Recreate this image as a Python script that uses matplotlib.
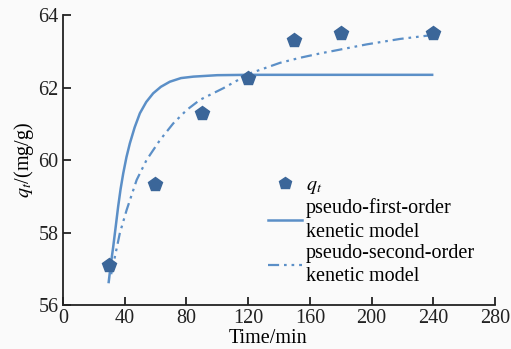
import matplotlib
matplotlib.use("Agg")
import matplotlib.pyplot as plt
from matplotlib.lines import Line2D

# experimental data
t_exp = [30, 60, 90, 120, 150, 180, 240]
q_exp = [57.1, 59.35, 61.3, 62.25, 63.3, 63.5, 63.5]

# pseudo-first-order fitted curve
t_pfo = [29.6, 31.0, 32.6, 34.2, 35.8, 37.4, 39.1, 41.2, 43.4, 46.5, 49.9, 54.0, 58.5, 63.5, 69.3, 76.5, 84.5, 100, 120, 160, 200, 240]
q_pfo = [56.6, 57.1, 57.6, 58.15, 58.71, 59.2, 59.63, 60.08, 60.46, 60.9, 61.29, 61.6, 61.84, 62.02, 62.16, 62.26, 62.3, 62.34, 62.35, 62.35, 62.35, 62.35]

# pseudo-second-order fitted curve
t_pso = [31.3, 33.7, 36.9, 41.3, 47.8, 54.2, 62.9, 71.5, 80.2, 88.8, 103.9, 121.2, 140.6, 153.6, 166.6, 175.2, 196.8, 218.4, 240]
q_pso = [56.85, 57.33, 57.98, 58.62, 59.45, 60.0, 60.55, 61.01, 61.38, 61.66, 61.98, 62.39, 62.68, 62.82, 62.94, 63.01, 63.19, 63.34, 63.45]

x_ticks = [0, 40, 80, 120, 160, 200, 240, 280]
y_ticks = [56, 58, 60, 62, 64]

plt.rcParams['font.family'] = ['Liberation Serif', 'DejaVu Serif']
plt.rcParams['mathtext.fontset'] = 'stix'

bg = '#fafafa'
line_c = '#5b8fc7'
mark_c = '#3b6699'
fs = 14.5

fig = plt.figure(figsize=(5.11, 3.49), dpi=100, facecolor=bg)
ax = fig.add_axes([0.123, 0.126, 0.846, 0.831], facecolor=bg)

ax.plot(t_pfo, q_pfo, color=line_c, lw=1.8, solid_capstyle='butt')
ax.plot(t_pso, q_pso, color=line_c, lw=1.6,
        linestyle=(0, (5, 2.2, 1.2, 2.2, 1.2, 2.2)))
ax.plot(t_exp, q_exp, linestyle='none', marker='p', ms=10,
        color=mark_c, markeredgecolor=mark_c, zorder=5)

ax.set_xlim(0, 280)
ax.set_ylim(56, 64)
ax.set_xticks(x_ticks)
ax.set_yticks(y_ticks)
for s in ['top', 'right']:
    ax.spines[s].set_visible(False)
for s in ['left', 'bottom']:
    ax.spines[s].set_linewidth(1.3)
    ax.spines[s].set_color('#222222')
ax.tick_params(direction='in', length=6, width=1.3, labelsize=fs,
               colors='#222222', pad=3)

ax.set_xlabel('Time/min', fontsize=fs, labelpad=0)
ax.xaxis.set_label_coords(0.475, -0.082)
ax.set_ylabel(r'$q_t$/(mg/g)', fontsize=fs, labelpad=2)

handles = [
    Line2D([], [], linestyle='none', marker='p', ms=9, color=mark_c),
    Line2D([], [], color=line_c, lw=1.8),
    Line2D([], [], color=line_c, lw=1.6, linestyle=(0, (5, 2.2, 1.2, 2.2, 1.2, 2.2))),
]
labels = [r'$q_t$', 'pseudo-first-order\nkenetic model',
          'pseudo-second-order\nkenetic model']
leg = ax.legend(handles, labels, loc='upper left',
                bbox_to_anchor=(0.452, 0.48), frameon=False, fontsize=fs,
                handlelength=1.65, handletextpad=0.2, labelspacing=0.12,
                borderpad=0)
for txt in leg.get_texts():
    txt.set_linespacing(1.3)

fig.savefig('out.png', dpi=100, facecolor=bg)
